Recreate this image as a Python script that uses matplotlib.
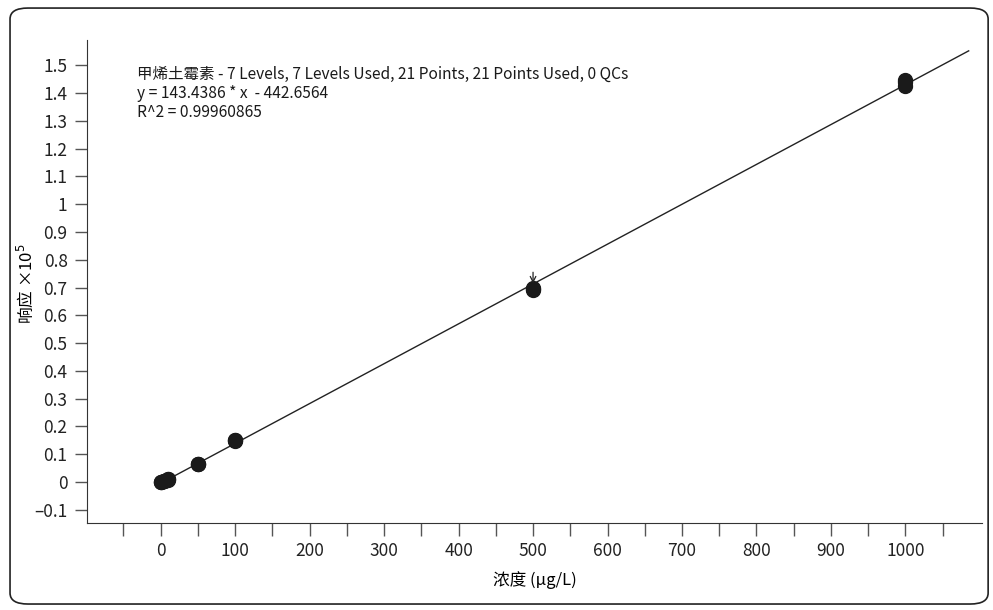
import matplotlib
matplotlib.use("Agg")
import matplotlib.pyplot as plt
from matplotlib.patches import FancyBboxPatch
from matplotlib.ticker import FixedLocator, FuncFormatter

plt.rcParams["font.family"] = ["Noto Sans CJK SC", "DejaVu Sans"]

# calibration data: 7 levels x 3 replicates, response in units of 1e5
conc = [1, 1, 1, 5, 5, 5, 10, 10, 10, 50, 50, 50,
        100, 100, 100, 500, 500, 500, 1000, 1000, 1000]
resp = [0.0010, 0.0013, 0.0011, 0.0045, 0.0050, 0.0042, 0.0085, 0.0092, 0.0097,
        0.065, 0.066, 0.064, 0.150, 0.153, 0.148, 0.690, 0.695, 0.700,
        1.425, 1.440, 1.448]

slope = 143.4386
intercept = -442.6564
fit_x = [0, 1085]
fit_y = [(slope * v + intercept) / 1e5 for v in fit_x]

title_lines = [
    "甲烯土霉素 - 7 Levels, 7 Levels Used, 21 Points, 21 Points Used, 0 QCs",
    "y = 143.4386 * x  - 442.6564",
    "R^2 = 0.99960865",
]

x_major = list(range(0, 1001, 100))
x_minor = list(range(-50, 1051, 100))
y_ticks = [round(-0.1 + 0.1 * i, 1) for i in range(17)]

fig = plt.figure(figsize=(9.93, 6.10), dpi=100)
ax = fig.add_axes([0.0876, 0.1426, 0.9014, 0.7914])

ax.plot(fit_x, fit_y, color="#222222", linewidth=1.0, zorder=2)
ax.plot(conc, resp, "o", color="#1a1a1a", markersize=10, zorder=3)

# marker arrow above the 500 level
ax.annotate("", xy=(500, 0.705), xytext=(500, 0.765),
            arrowprops=dict(arrowstyle="->", color="#222222", lw=0.9))

ax.set_xlim(-99, 1103)
ax.set_ylim(-0.1475, 1.59)

ax.xaxis.set_major_locator(FixedLocator(x_major))
ax.xaxis.set_minor_locator(FixedLocator(x_minor))
ax.yaxis.set_major_locator(FixedLocator(y_ticks))
ax.yaxis.set_major_formatter(FuncFormatter(lambda v, p: ("%g" % v).replace("-", "\u2013")))

ax.tick_params(axis="both", which="both", direction="out", length=9, width=1,
               color="#555555", labelsize=12.5, labelcolor="#222222")
ax.tick_params(axis="x", pad=5)
ax.tick_params(axis="y", pad=5)
for lbl in ax.get_xticklabels() + ax.get_yticklabels():
    lbl.set_fontweight("medium")

ax.spines[["top", "right"]].set_visible(False)
ax.spines["left"].set_color("#333333")
ax.spines["bottom"].set_color("#333333")

ax.set_xlabel("浓度 (μg/L)", fontsize=12, fontweight="medium", labelpad=8)
ax.set_ylabel("响应 ×10$^5$", fontsize=12, fontweight="medium")
ax.yaxis.set_label_coords(-0.057, 0.495)

for i, line in enumerate(title_lines):
    ax.text(0.056, 0.93 - i * 0.0395, line, transform=ax.transAxes,
            fontsize=11.2, fontweight="medium", va="center", ha="left", color="#1a1a1a")

frame = FancyBboxPatch((0.0101, 0.0098), 0.985, 0.977,
                       boxstyle="round,pad=0,rounding_size=0.018",
                       transform=fig.transFigure, fill=False,
                       edgecolor="#222222", linewidth=1.2)
fig.patches.append(frame)

fig.savefig("out.png", dpi=100)
